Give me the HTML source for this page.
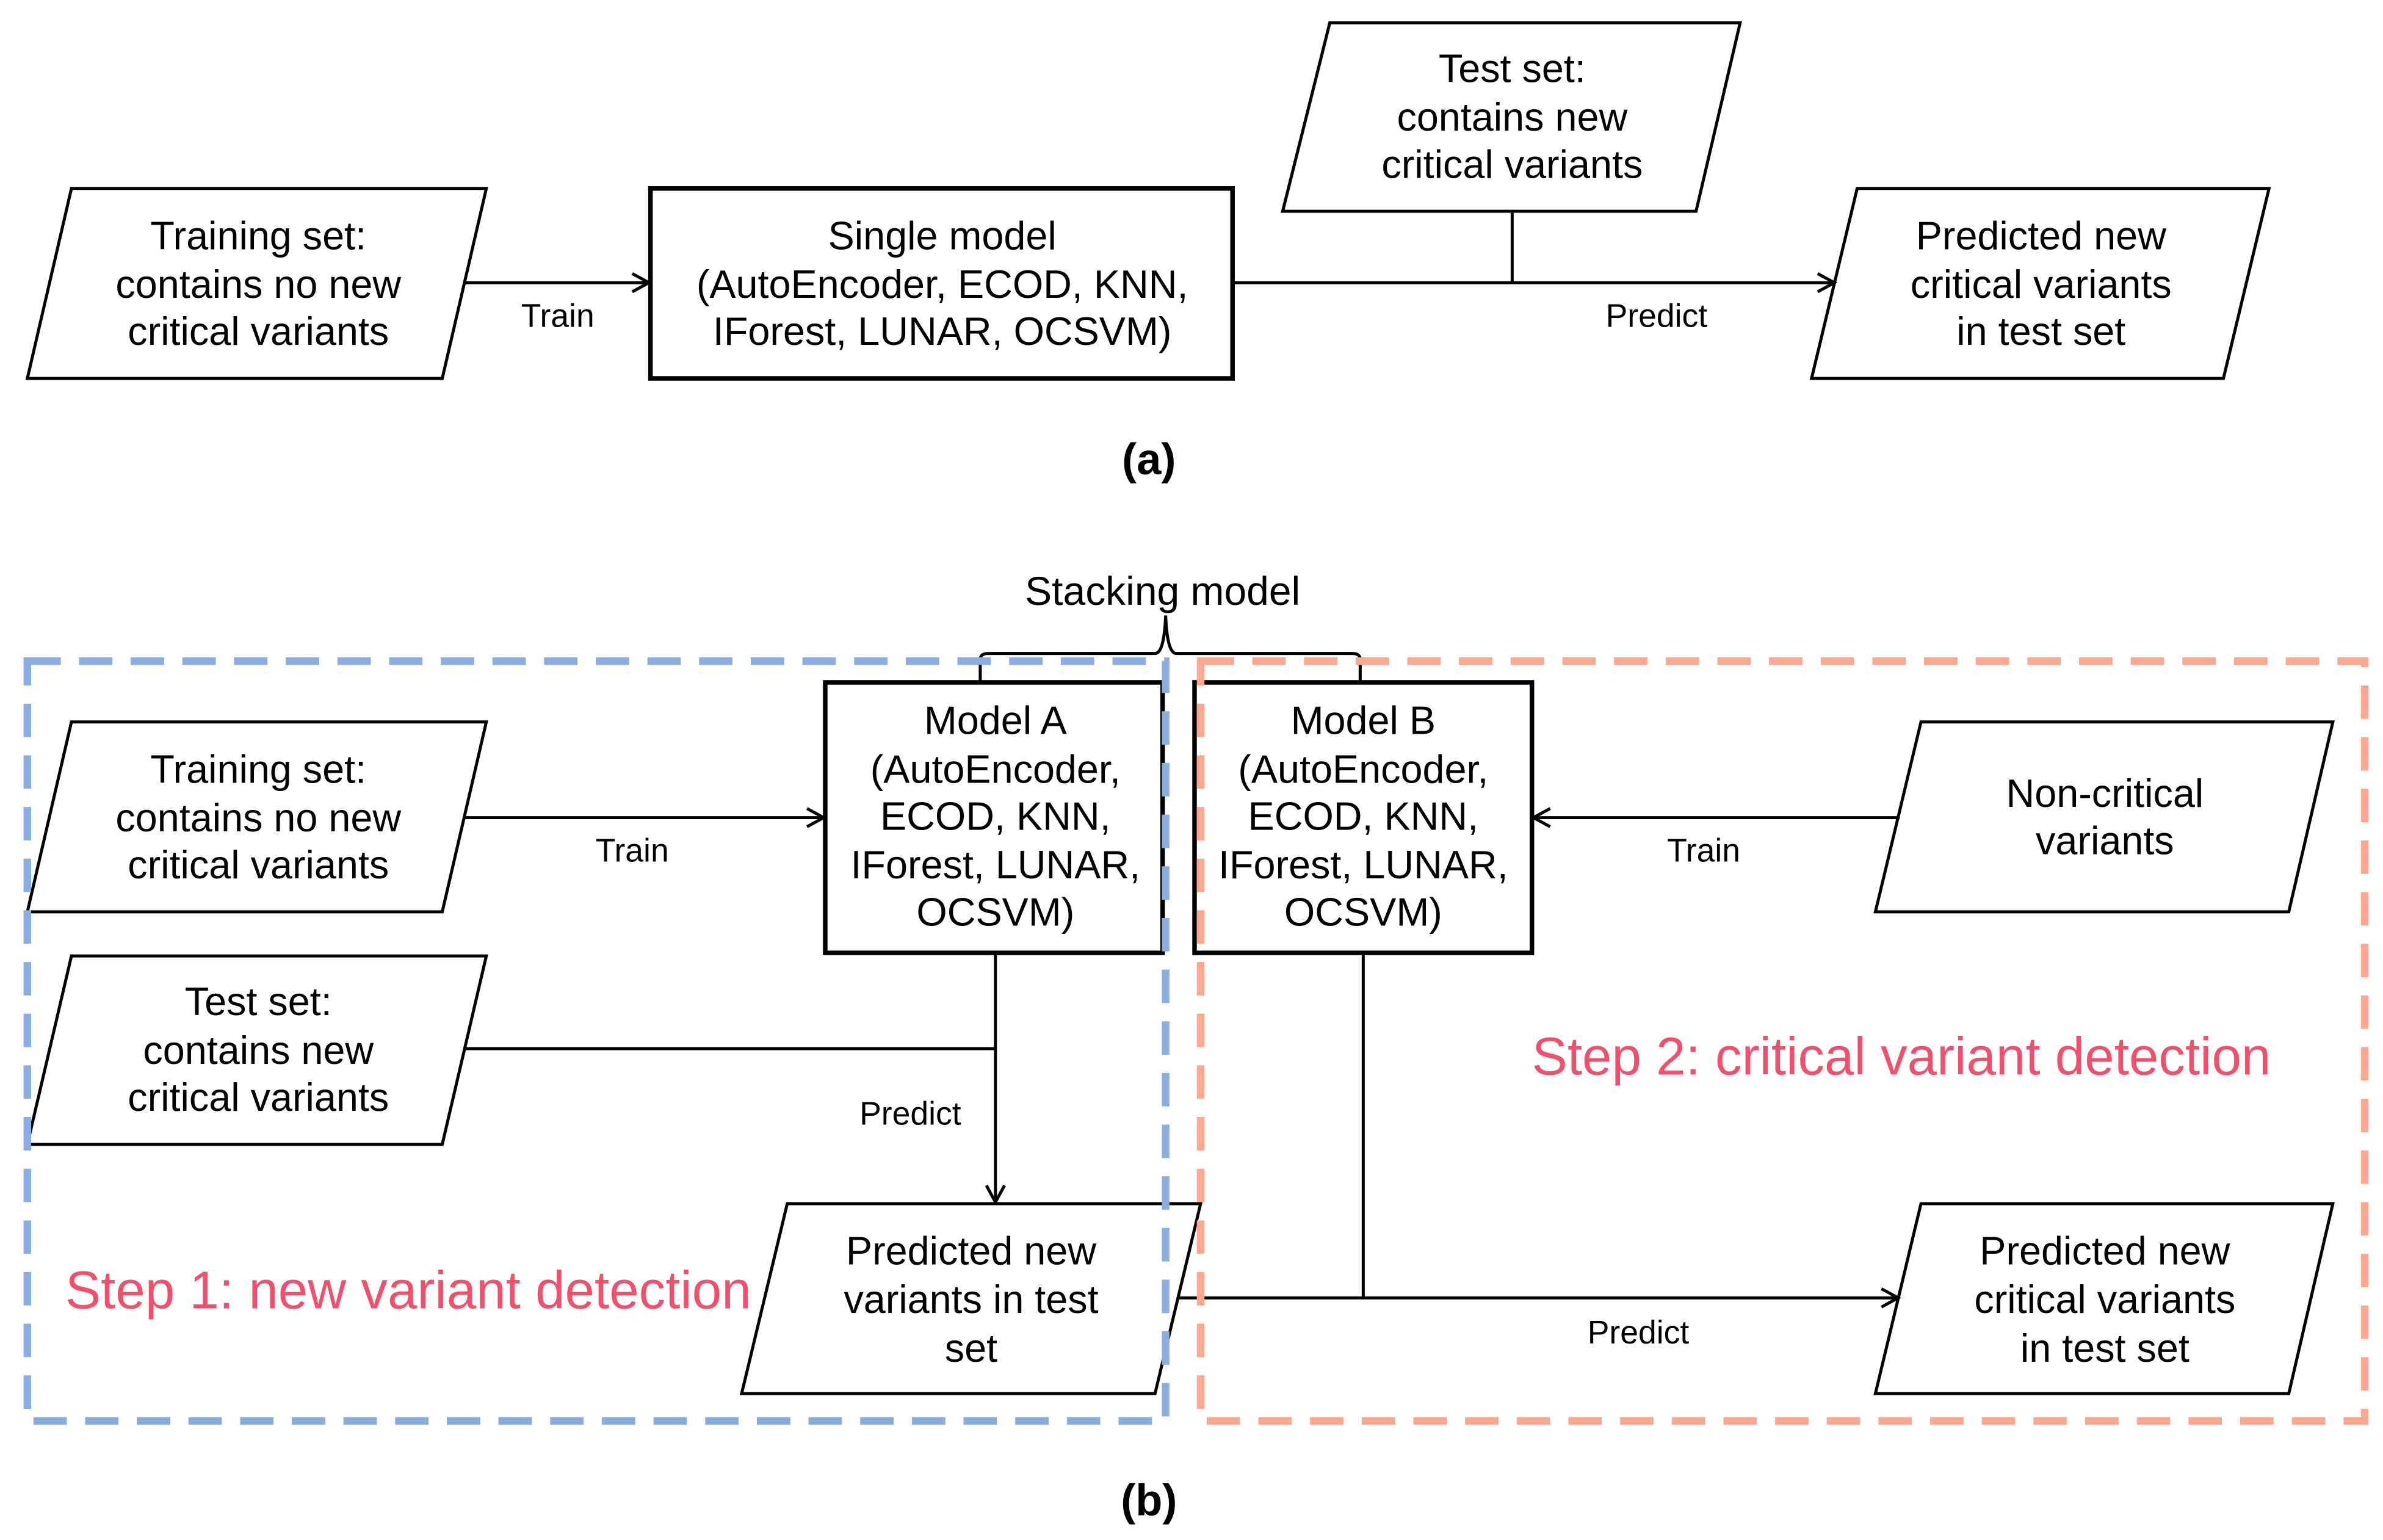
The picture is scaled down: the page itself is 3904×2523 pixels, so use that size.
<!DOCTYPE html>
<html><head><meta charset="utf-8"><style>
html,body{margin:0;padding:0;background:#fff;}
svg{display:block;}
text{font-family:"Liberation Sans",Arial,sans-serif;fill:#000;}
</style></head><body>
<svg width="3904" height="2523" viewBox="0 0 1568 1013.3" xmlns="http://www.w3.org/2000/svg">
<defs>
<marker id="ar" markerWidth="14" markerHeight="14" refX="12" refY="7" orient="auto" markerUnits="userSpaceOnUse">
<path d="M1,1 L12,7 L1,13" fill="none" stroke="#000" stroke-width="2"/>
</marker>
</defs>
<g fill="#fff" stroke="#000" stroke-width="2">
<polygon points="47,124 320,124 291,249 18,249"/>
<rect x="428" y="124" width="383" height="125" stroke-width="3"/>
<polygon points="875,15 1145,15 1116,139 844,139"/>
<polygon points="1222,124 1493,124 1463,249 1192,249"/>
<polygon points="47,475 320,475 291,600 18,600"/>
<polygon points="47,629 320,629 291,753 18,753"/>
<polygon points="518,792 790,792 760,917 488,917"/>
<polygon points="1264,475 1535,475 1506,600 1234,600"/>
<polygon points="1264,792 1535,792 1506,917 1234,917"/>
<rect x="543" y="449" width="222" height="178" stroke-width="3"/>
<rect x="786" y="449" width="222" height="178" stroke-width="3"/>
</g>
<g fill="none" stroke="#000" stroke-width="2">
<line x1="305" y1="186" x2="427" y2="186" marker-end="url(#ar)"/>
<line x1="811" y1="186" x2="1207" y2="186" marker-end="url(#ar)"/>
<line x1="995" y1="140" x2="995" y2="186"/>
<line x1="305" y1="538" x2="542" y2="538" marker-end="url(#ar)"/>
<line x1="305" y1="690" x2="655" y2="690"/>
<line x1="655" y1="627" x2="655" y2="791" marker-end="url(#ar)"/>
<line x1="775" y1="854" x2="1249" y2="854" marker-end="url(#ar)"/>
<line x1="897" y1="627" x2="897" y2="854"/>
<line x1="1250" y1="538" x2="1009" y2="538" marker-end="url(#ar)"/>
<path d="M645,448 L645,434 Q645,430 650,430 L760,430 Q766,430 767,405 Q768,430 774,430 L890,430 Q895,430 895,434 L895,448"/>
</g>
<rect x="18" y="435" width="749" height="500" fill="none" stroke="#8AAEE0" stroke-width="5" stroke-dasharray="22,12"/>
<rect x="790" y="435" width="766" height="500" fill="none" stroke="#F9A98F" stroke-width="5" stroke-dasharray="22,12"/>
<g font-size="26" text-anchor="middle">
<text x="170" y="164">Training set:</text><text x="170" y="196">contains no new</text><text x="170" y="227">critical variants</text>
<text x="620" y="164">Single model</text><text x="620" y="196">(AutoEncoder, ECOD, KNN,</text><text x="620" y="227">IForest, LUNAR, OCSVM)</text>
<text x="995" y="54">Test set:</text><text x="995" y="86">contains new</text><text x="995" y="117">critical variants</text>
<text x="1343" y="164">Predicted new</text><text x="1343" y="196">critical variants</text><text x="1343" y="227">in test set</text>
<text x="765" y="398" font-size="26.5">Stacking model</text>
<text x="170" y="515">Training set:</text><text x="170" y="547">contains no new</text><text x="170" y="578">critical variants</text>
<text x="170" y="668">Test set:</text><text x="170" y="700">contains new</text><text x="170" y="731">critical variants</text>
<text x="655" y="483">Model A</text><text x="655" y="515">(AutoEncoder,</text><text x="655" y="546">ECOD, KNN,</text><text x="655" y="578">IForest, LUNAR,</text><text x="655" y="609">OCSVM)</text>
<text x="897" y="483">Model B</text><text x="897" y="515">(AutoEncoder,</text><text x="897" y="546">ECOD, KNN,</text><text x="897" y="578">IForest, LUNAR,</text><text x="897" y="609">OCSVM)</text>
<text x="1385" y="531">Non-critical</text><text x="1385" y="562">variants</text>
<text x="639" y="832">Predicted new</text><text x="639" y="864">variants in test</text><text x="639" y="896">set</text>
<text x="1385" y="832">Predicted new</text><text x="1385" y="864">critical variants</text><text x="1385" y="896">in test set</text>
</g>
<g font-size="21.5" text-anchor="middle">
<text x="367" y="215">Train</text><text x="1090" y="215">Predict</text>
<text x="416" y="567">Train</text><text x="599" y="740">Predict</text>
<text x="1121" y="567">Train</text><text x="1078" y="884">Predict</text>
</g>
<g font-size="29" font-weight="bold" text-anchor="middle">
<text x="756" y="312">(a)</text><text x="756" y="997">(b)</text>
</g>
<g font-size="35">
<text x="43" y="861" style="fill:#F0506E">Step 1: new variant detection</text>
<text x="1008" y="707" style="fill:#F0506E">Step 2: critical variant detection</text>
</g>
</svg>
</body></html>
